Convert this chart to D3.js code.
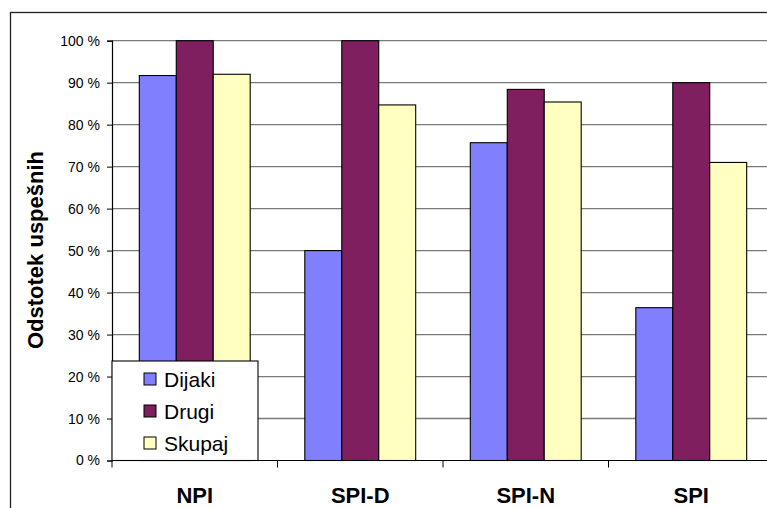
<!DOCTYPE html>
<html>
<head>
<meta charset="utf-8">
<script src="https://cdn.jsdelivr.net/npm/d3@7"></script>
<style>
  body { margin: 0; background: #fff; }
  svg { display: block; font-family: "Liberation Sans", Arial, sans-serif; }
</style>
</head>
<body>
<div id="chart"></div>
<script>
// data
const CATEGORIES = ['NPI', 'SPI-D', 'SPI-N', 'SPI'];
const SERIES = ['Dijaki', 'Drugi', 'Skupaj'];
const DIJAKI = [91.7, 50.0, 75.7, 36.4];
const DRUGI = [100, 100, 88.4, 90.0];
const SKUPAJ = [92.0, 84.7, 85.4, 71.0];
const Y_TICKS = [0, 10, 20, 30, 40, 50, 60, 70, 80, 90, 100];
const COLORS = { Dijaki: '#8080ff', Drugi: '#7f1f5f', Skupaj: '#ffffc0' };

const values = { Dijaki: DIJAKI, Drugi: DRUGI, Skupaj: SKUPAJ };
const rows = CATEGORIES.map((c, i) => ({ cat: c, vals: SERIES.map(s => ({ key: s, v: values[s][i] })) }));

const W = 767, H = 508;
const PLOT = { left: 112, right: 774, top: 40.7, bottom: 460.5 }; // plot runs past the right edge, as in the source

const svg = d3.select('#chart').append('svg').attr('width', W).attr('height', H);

// outer chart-area border (cropped on the right and bottom)
svg.append('rect').attr('x', 10.5).attr('y', 12.5).attr('width', 800).attr('height', 600)
  .attr('fill', '#fff').attr('stroke', '#222').attr('stroke-width', 1.3);

const x = d3.scaleBand().domain(CATEGORIES).range([PLOT.left, PLOT.right]);
const groupW = x.bandwidth() * 0.67;
const x1 = d3.scaleBand().domain(SERIES).range([0, groupW]);
const y = d3.scaleLinear().domain([0, 100]).range([PLOT.bottom, PLOT.top]);

// gridlines
svg.append('g').selectAll('line').data(Y_TICKS.filter(d => d > 0)).join('line')
  .attr('x1', PLOT.left).attr('x2', PLOT.right)
  .attr('y1', d => y(d)).attr('y2', d => y(d))
  .attr('stroke', '#7a7a7a').attr('stroke-width', 1.3);

// bars
const groups = svg.append('g').selectAll('g').data(rows).join('g')
  .attr('transform', d => `translate(${x(d.cat) + (x.bandwidth() - groupW) / 2},0)`);
groups.selectAll('rect').data(d => d.vals).join('rect')
  .attr('x', d => x1(d.key)).attr('width', x1.bandwidth())
  .attr('y', d => y(d.v)).attr('height', d => y(0) - y(d.v))
  .attr('fill', d => COLORS[d.key]).attr('stroke', '#000').attr('stroke-width', 1.1);

// y axis
const yAxis = svg.append('g').attr('transform', `translate(${PLOT.left},0)`)
  .call(d3.axisLeft(y).tickValues(Y_TICKS).tickFormat(d => d + ' %').tickSize(5).tickPadding(7));
yAxis.select('.domain').attr('stroke', '#000').attr('stroke-width', 1.2);
yAxis.selectAll('.tick line').attr('stroke', '#000');
yAxis.selectAll('text').attr('font-size', '14px').attr('fill', '#000')
  .attr('font-family', '"Liberation Sans", Arial, sans-serif');

// x axis: ticks at category boundaries
const xAxis = svg.append('g').attr('transform', `translate(0,${PLOT.bottom})`);
xAxis.append('line').attr('x1', PLOT.left).attr('x2', PLOT.right).attr('stroke', '#000').attr('stroke-width', 1.2);
xAxis.selectAll('line.tk').data(CATEGORIES).join('line').attr('class', 'tk')
  .attr('x1', d => x(d)).attr('x2', d => x(d)).attr('y1', 0).attr('y2', 7)
  .attr('stroke', '#000');
xAxis.selectAll('text').data(CATEGORIES).join('text')
  .attr('x', d => x(d) + x.bandwidth() / 2).attr('y', 42)
  .attr('text-anchor', 'middle').attr('font-size', '22px').attr('font-weight', 'bold')
  .text(d => d);

// y title
svg.append('text').attr('transform', 'translate(43,250) rotate(-90)')
  .attr('text-anchor', 'middle').attr('font-size', '22px').attr('font-weight', 'bold')
  .text('Odstotek uspešnih');

// legend
const leg = svg.append('g').attr('transform', `translate(${PLOT.left},361)`);
leg.append('rect').attr('x', 0).attr('y', 0).attr('width', 146).attr('height', PLOT.bottom - 361)
  .attr('fill', '#fff').attr('stroke', '#000').attr('stroke-width', 1.1);
SERIES.forEach((s, i) => {
  const yy = 18 + i * 32;
  leg.append('rect').attr('x', 32).attr('y', yy - 6).attr('width', 12).attr('height', 12)
    .attr('fill', COLORS[s]).attr('stroke', '#000').attr('stroke-width', 1);
  leg.append('text').attr('x', 52).attr('y', yy + 8).attr('font-size', '21px').text(s);
});
</script>
</body>
</html>
